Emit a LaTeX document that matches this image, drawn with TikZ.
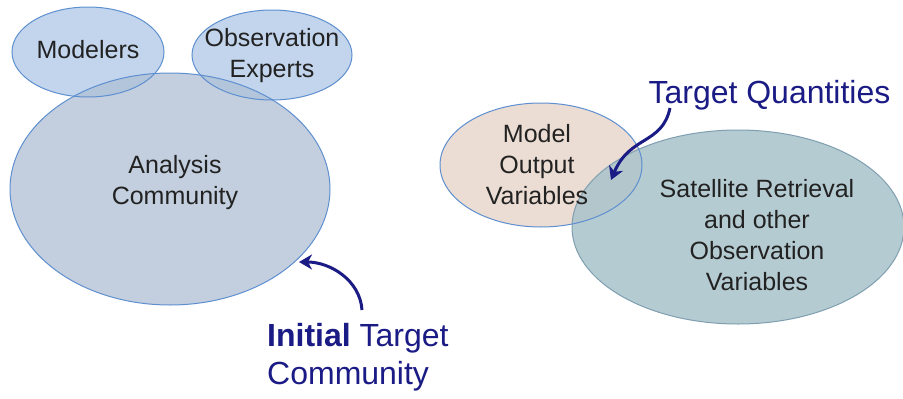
\documentclass[tikz,border=0pt]{standalone}
\usepackage{fontspec}
\setmainfont{Liberation Sans}
\usetikzlibrary{arrows.meta}
\definecolor{bluefill}{HTML}{C2D5EC}
\definecolor{bluedraw}{HTML}{5E8FD0}
\definecolor{tanfill}{HTML}{EBDDD3}
\definecolor{tealfill}{HTML}{A9C3CB}
\definecolor{tealdraw}{HTML}{7F9FB0}
\definecolor{navy}{HTML}{1B1B86}
\definecolor{txt}{HTML}{222222}
\tikzset{
  blob/.style={ellipse, draw=bluedraw, line width=1pt, fill=bluefill, fill opacity=0.8, text opacity=1},
  lbl/.style={text=txt, font=\fontsize{25}{31}\selectfont, align=center},
  big/.style={text=navy, font=\fontsize{32}{38}\selectfont, align=left},
  curved/.style={draw=navy, line width=3pt, -{Stealth[length=13pt,width=15pt,inset=4pt]}}
}
\begin{document}
\begin{tikzpicture}[x=1pt,y=-1pt]
\useasboundingbox (0,0) rectangle (903,399);
\fill[white] (0,0) rectangle (903,399);
% left group
\fill[bluefill] (88,52) ellipse [x radius=76, y radius=45];
\fill[bluefill] (272,55) ellipse [x radius=80, y radius=45];
\fill[bluefill!90!black, fill opacity=0.75] (170,189) ellipse [x radius=160, y radius=116];
\draw[bluedraw, line width=1pt] (88,52) ellipse [x radius=76, y radius=45];
\draw[bluedraw, line width=1pt] (272,55) ellipse [x radius=80, y radius=45];
\draw[bluedraw, line width=1pt] (170,189) ellipse [x radius=160, y radius=116];
\node[lbl] (mod) at (88,50) {Modelers};
\node[lbl] (obs) at (272,56) {Observation\\Experts};
\node[lbl] (ana) at (175,183) {Analysis\\Community};
\coordinate (anaedge) at (299,262);
% right group
\fill[tanfill] (541,165) ellipse [x radius=101, y radius=62];
\fill[tealfill, fill opacity=0.85] (738,227) ellipse [x radius=166, y radius=97];
\draw[tealdraw, line width=1pt] (738,227) ellipse [x radius=166, y radius=97];
\draw[bluedraw, line width=1pt] (541,165) ellipse [x radius=101, y radius=62];
\node[lbl] (mov) at (537,165) {Model\\Output\\Variables};
\node[lbl] (sat) at (757,235) {Satellite Retrieval\\and other\\Observation\\Variables};
\coordinate (overlap) at (611,180);
% labels
\node[big, anchor=west] (tq) at (645,95) {Target Quantities};
\node[big, anchor=north west, inner sep=0pt] (itc) at (267,323) {\textbf{Initial} Target\\Community};
% arrows
\draw[curved] (670,108) .. controls (662,145) and (630,135) .. (overlap);
\draw[curved] (362,310) .. controls (360,280) and (330,262) .. (anaedge);
\end{tikzpicture}
\end{document}
